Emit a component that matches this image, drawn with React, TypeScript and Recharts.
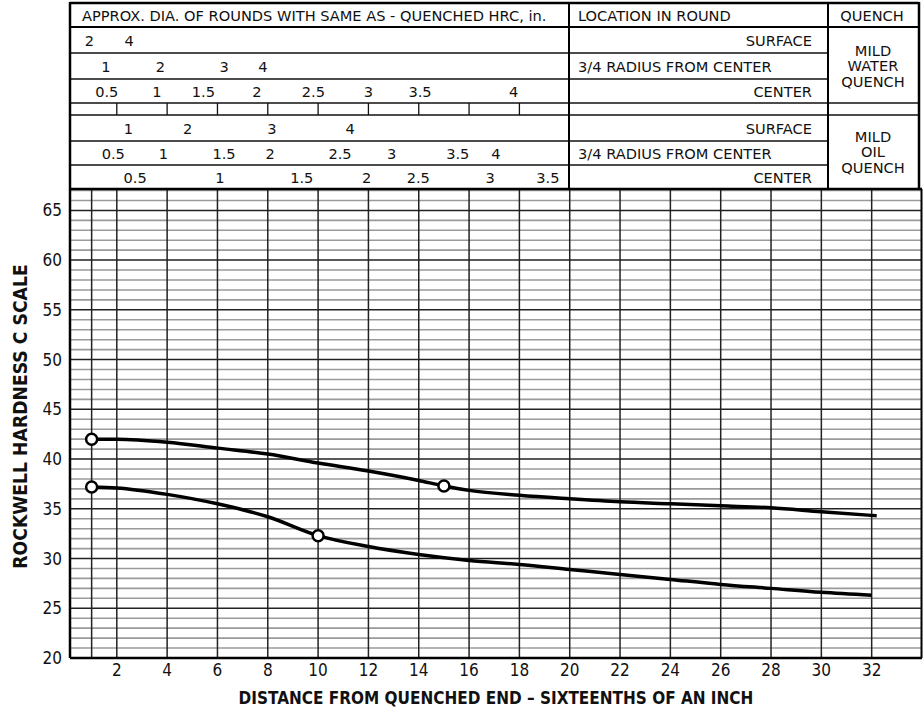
import React from "react";
import {
  ComposedChart,
  Line,
  Scatter,
  XAxis,
  YAxis,
  ReferenceLine,
} from "recharts";

const FONT = "'DejaVu Sans Condensed', 'DejaVu Sans', sans-serif";
const TABLE_FONT = "'DejaVu Sans', sans-serif";

// Jominy distance (sixteenths of an inch) and hardness readings
const upperDist = [1, 2, 4, 6, 8, 10, 12, 14, 15, 16, 18, 20, 22, 24, 26, 28, 30, 32.2];
const upperHrc = [42.0, 42.0, 41.7, 41.1, 40.5, 39.6, 38.8, 37.85, 37.3, 36.85, 36.35, 36.0, 35.7, 35.5, 35.3, 35.1, 34.7, 34.3];
const upperMarks = [1, 15];

const lowerDist = [1, 2, 4, 6, 8, 10, 12, 14, 16, 18, 20, 22, 24, 26, 28, 30, 32];
const lowerHrc = [37.2, 37.1, 36.45, 35.5, 34.2, 32.3, 31.2, 30.4, 29.8, 29.4, 28.9, 28.4, 27.9, 27.4, 27.0, 26.6, 26.3];
const lowerMarks = [1, 10];

// axis ticks
const xTicks = [2, 4, 6, 8, 10, 12, 14, 16, 18, 20, 22, 24, 26, 28, 30, 32];
const xGrid = [1, ...xTicks];
const yTicks = [20, 25, 30, 35, 40, 45, 50, 55, 60, 65];
const yMinor = [21, 22, 23, 24, 26, 27, 28, 29, 31, 32, 33, 34, 36, 37, 38, 39, 41, 42, 43, 44, 46, 47, 48, 49, 51, 52, 53, 54, 56, 57, 58, 59, 61, 62, 63, 64, 66, 67];

// equivalent round diameters (in.) placed at their Jominy distance
const waterSurfacePos = [0.91, 2.49];
const waterSurfaceDia = ["2", "4"];
const water34Pos = [1.57, 3.73, 6.27, 7.81];
const water34Dia = ["1", "2", "3", "4"];
const waterCenterPos = [1.6, 3.59, 5.44, 7.57, 9.81, 12.0, 14.05, 17.77];
const waterCenterDia = ["0.5", "1", "1.5", "2", "2.5", "3", "3.5", "4"];
const oilSurfacePos = [2.46, 4.82, 8.16, 11.27];
const oilSurfaceDia = ["1", "2", "3", "4"];
const oil34Pos = [1.86, 3.85, 6.26, 8.09, 10.87, 12.92, 15.55, 17.07];
const oil34Dia = ["0.5", "1", "1.5", "2", "2.5", "3", "3.5", "4"];
const oilCenterPos = [2.73, 6.1, 9.35, 11.93, 13.98, 16.84, 19.13];
const oilCenterDia = ["0.5", "1", "1.5", "2", "2.5", "3", "3.5"];
const spacerTicks = [2, 4, 6, 8, 10, 12, 14, 16, 18];

const upperData = upperDist.map((x, i) => ({ x, hrc: upperHrc[i] }));
const lowerData = lowerDist.map((x, i) => ({ x, hrc: lowerHrc[i] }));
const markData = [
  ...upperData.filter((d) => upperMarks.includes(d.x)),
  ...lowerData.filter((d) => lowerMarks.includes(d.x)),
];

const X_DOMAIN: [number, number] = [0.14, 34];
const Y_DOMAIN: [number, number] = [20, 67.15];

const W = 924;
const H = 713;
const PLOT_LEFT = 70;
const PLOT_RIGHT = 922;
const TABLE_RIGHT = 919;
const COL_LOC = 569;
const COL_Q = 828;
const TABLE_TOP = 3;
const HEAD_BOTTOM = 27;
const PLOT_TOP = 189;
const PLOT_BOTTOM = 658;
const TABLE_FS = 14.6;

const rowTick = (pos: number[], labels: string[]) => (props: any) => {
  const i = pos.indexOf(props.payload.value);
  return (
    <text
      x={props.x}
      y={props.y}
      textAnchor="middle"
      dominantBaseline="central"
      fontSize={TABLE_FS}
      fontFamily={TABLE_FONT}
      fill="#111"
    >
      {labels[i]}
    </text>
  );
};

// one top axis per table row; recharts stacks them by id, nearest the plot first
const rows = [
  { id: "a_oc", h: 24, pos: oilCenterPos, dia: oilCenterDia },
  { id: "b_o34", h: 24, pos: oil34Pos, dia: oil34Dia },
  { id: "c_os", h: 26, pos: oilSurfacePos, dia: oilSurfaceDia },
  { id: "d_sp", h: 12, pos: spacerTicks, dia: [] as string[] },
  { id: "e_wc", h: 24, pos: waterCenterPos, dia: waterCenterDia },
  { id: "f_w34", h: 26, pos: water34Pos, dia: water34Dia },
  { id: "g_ws", h: 26, pos: waterSurfacePos, dia: waterSurfaceDia },
];

const txt = {
  fontFamily: TABLE_FONT,
  fontSize: TABLE_FS,
  fill: "#111",
};

function TableFrame() {
  const thin = { stroke: "#111", strokeWidth: 1.3 };
  const thick = { stroke: "#000", strokeWidth: 2.5 };
  return (
    <svg
      width={W}
      height={H}
      style={{ position: "absolute", left: 0, top: 0, pointerEvents: "none" }}
    >
      <line x1={PLOT_LEFT} x2={TABLE_RIGHT} y1={TABLE_TOP} y2={TABLE_TOP} {...thick} />
      <line x1={PLOT_LEFT} x2={TABLE_RIGHT} y1={HEAD_BOTTOM} y2={HEAD_BOTTOM} stroke="#000" strokeWidth={2} />
      <line x1={PLOT_LEFT} x2={COL_Q} y1={53} y2={53} {...thin} />
      <line x1={PLOT_LEFT} x2={COL_Q} y1={79} y2={79} {...thin} />
      <line x1={PLOT_LEFT} x2={TABLE_RIGHT} y1={103} y2={103} {...thin} />
      <line x1={PLOT_LEFT} x2={TABLE_RIGHT} y1={115} y2={115} {...thin} />
      <line x1={PLOT_LEFT} x2={COL_Q} y1={141} y2={141} {...thin} />
      <line x1={PLOT_LEFT} x2={COL_Q} y1={165} y2={165} {...thin} />
      <line x1={PLOT_LEFT} x2={PLOT_RIGHT} y1={PLOT_TOP} y2={PLOT_TOP} {...thick} />
      <line x1={PLOT_LEFT} x2={PLOT_LEFT} y1={TABLE_TOP - 1} y2={PLOT_TOP} {...thick} />
      <line x1={COL_LOC} x2={COL_LOC} y1={TABLE_TOP} y2={PLOT_TOP} stroke="#000" strokeWidth={2} />
      <line x1={COL_Q} x2={COL_Q} y1={TABLE_TOP} y2={PLOT_TOP} stroke="#000" strokeWidth={2} />
      <line x1={TABLE_RIGHT} x2={TABLE_RIGHT} y1={TABLE_TOP - 1} y2={PLOT_TOP} {...thick} />
      <line x1={PLOT_RIGHT - 0.5} x2={PLOT_RIGHT - 0.5} y1={PLOT_TOP} y2={PLOT_BOTTOM} stroke="#000" strokeWidth={2} />

      <g {...txt} dominantBaseline="central">
        <text x={82} y={15}>APPROX. DIA. OF ROUNDS WITH SAME AS - QUENCHED HRC, in.</text>
        <text x={578} y={15}>LOCATION IN ROUND</text>
        <text x={872} y={15} textAnchor="middle">QUENCH</text>

        <text x={812} y={40} textAnchor="end">SURFACE</text>
        <text x={578} y={66}>3/4 RADIUS FROM CENTER</text>
        <text x={812} y={91} textAnchor="end">CENTER</text>
        <text x={873} y={50} textAnchor="middle">MILD</text>
        <text x={873} y={65.5} textAnchor="middle">WATER</text>
        <text x={873} y={81} textAnchor="middle">QUENCH</text>

        <text x={812} y={128} textAnchor="end">SURFACE</text>
        <text x={578} y={153} textAnchor="start">3/4 RADIUS FROM CENTER</text>
        <text x={812} y={177} textAnchor="end">CENTER</text>
        <text x={873} y={136} textAnchor="middle">MILD</text>
        <text x={873} y={151.5} textAnchor="middle">OIL</text>
        <text x={873} y={167} textAnchor="middle">QUENCH</text>
      </g>
    </svg>
  );
}

const marker = (p: any) => (
  <circle cx={p.cx} cy={p.cy} r={5.5} fill="#fff" stroke="#000" strokeWidth={2.5} />
);

export default function App() {
  return (
    <div style={{ position: "absolute", left: 0, top: 0, width: W, height: H, background: "#fff" }}>
      <ComposedChart
        width={W}
        height={H}
        margin={{ top: HEAD_BOTTOM, right: W - PLOT_RIGHT, bottom: 0, left: 0 }}
      >
        {rows.map((r) => (
          <XAxis
            key={r.id}
            xAxisId={r.id}
            orientation="top"
            type="number"
            dataKey="x"
            domain={X_DOMAIN}
            allowDataOverflow
            height={r.h}
            ticks={r.pos}
            interval={0}
            axisLine={false}
            tickLine={r.id === "d_sp" ? { stroke: "#111", strokeWidth: 1.3 } : false}
            tickSize={r.id === "d_sp" ? r.h : 0}
            tickMargin={r.id === "d_sp" ? 0 : r.h / 2}
            tick={r.id === "d_sp" ? () => <g /> : rowTick(r.pos, r.dia)}
          />
        ))}
        <XAxis
          type="number"
          dataKey="x"
          domain={X_DOMAIN}
          allowDataOverflow
          ticks={xTicks}
          interval={0}
          height={H - PLOT_BOTTOM}
          tickLine={false}
          tickMargin={0}
          axisLine={{ stroke: "#000", strokeWidth: 2.5 }}
          tick={{ fontSize: 17, fill: "#111", fontFamily: FONT }}
          label={{
            value: "DISTANCE FROM QUENCHED END \u2013 SIXTEENTHS OF AN INCH",
            position: "insideBottom",
            offset: 9,
            style: { fontSize: 17, fontWeight: "bold", fill: "#111", fontFamily: FONT },
          }}
        />
        <YAxis
          type="number"
          dataKey="hrc"
          domain={Y_DOMAIN}
          allowDataOverflow
          ticks={yTicks}
          interval={0}
          width={PLOT_LEFT}
          tickLine={false}
          tickSize={6}
          tickMargin={2}
          axisLine={{ stroke: "#000", strokeWidth: 2.5 }}
          tick={{ fontSize: 17, fill: "#111", fontFamily: FONT }}
          label={{
            content: (p: any) => {
              const vb = p.viewBox;
              const cx = vb.x + 20;
              const cy = vb.y + vb.height / 2 - 7;
              return (
                <text
                  x={cx}
                  y={cy}
                  transform={`rotate(-90 ${cx} ${cy})`}
                  textAnchor="middle"
                  dominantBaseline="central"
                  fontSize={19.2}
                  fontWeight="bold"
                  fontFamily={FONT}
                  fill="#111"
                >
                  ROCKWELL HARDNESS C SCALE
                </text>
              );
            },
          }}
        />
        {yMinor.map((v) => (
          <ReferenceLine key={"m" + v} y={v} stroke="#9a9a9a" strokeWidth={1.6} />
        ))}
        {yTicks.slice(1).map((v) => (
          <ReferenceLine key={"y" + v} y={v} stroke="#222" strokeWidth={1.5} />
        ))}
        {xGrid.map((v) => (
          <ReferenceLine key={"x" + v} x={v} stroke="#222" strokeWidth={1.5} />
        ))}
        <Line
          data={upperData}
          dataKey="hrc"
          type="monotone"
          stroke="#000"
          strokeWidth={3.5}
          dot={false}
          activeDot={false}
          isAnimationActive={false}
        />
        <Line
          data={lowerData}
          dataKey="hrc"
          type="monotone"
          stroke="#000"
          strokeWidth={3.5}
          dot={false}
          activeDot={false}
          isAnimationActive={false}
        />
        <Scatter data={markData} dataKey="hrc" shape={marker} isAnimationActive={false} />
      </ComposedChart>
      <TableFrame />
    </div>
  );
}
